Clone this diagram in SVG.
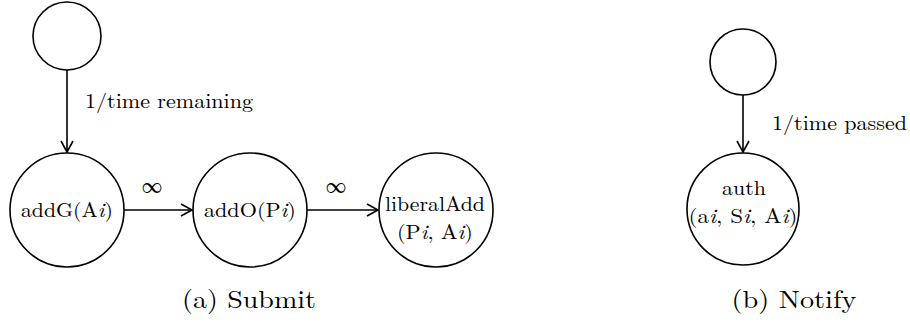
<svg xmlns="http://www.w3.org/2000/svg" width="910" height="323" viewBox="0 0 910 323">
<style>
.n{fill:#fff;stroke:#000;stroke-width:1.6}
.e{stroke:#000;stroke-width:1.6;fill:none;marker-end:url(#a)}
</style>
<defs>
<marker id="a" markerWidth="14" markerHeight="14" refX="12" refY="7" orient="auto" markerUnits="userSpaceOnUse">
<path d="M1,1 L12,7 L1,13" fill="none" stroke="#000" stroke-width="1.6"/>
</marker>
</defs>
<g font-family="Latin Modern Roman, Liberation Serif, serif" fill="#000" font-size="20.5">
<g id="connectors">
<line class="e" x1="67" y1="70" x2="67" y2="152"/>
<line class="e" x1="124" y1="210" x2="192" y2="210"/>
<line class="e" x1="307" y1="210" x2="378" y2="210"/>
<line class="e" x1="743" y1="95" x2="743" y2="152"/>
<text x="85" y="108" textLength="168" lengthAdjust="spacingAndGlyphs">1/time remaining</text>
<text x="152" y="193" text-anchor="middle">∞</text>
<text x="336" y="193" text-anchor="middle">∞</text>
<text x="772" y="130" textLength="135" lengthAdjust="spacingAndGlyphs">1/time passed</text>
</g>
<g text-anchor="middle">
<g id="s0"><circle class="n" cx="67" cy="36" r="34"/></g>
<g id="addG"><circle class="n" cx="67" cy="210" r="57"/><text x="67" y="217" textLength="92" lengthAdjust="spacingAndGlyphs">addG(A<tspan font-style="italic">i</tspan>)</text></g>
<g id="addO"><circle class="n" cx="250" cy="210" r="57"/><text x="250" y="217" textLength="92" lengthAdjust="spacingAndGlyphs">addO(P<tspan font-style="italic">i</tspan>)</text></g>
<g id="liberalAdd"><circle class="n" cx="436" cy="210" r="57"/><text x="435" y="211" textLength="100" lengthAdjust="spacingAndGlyphs">liberalAdd</text><text x="435" y="239" textLength="76" lengthAdjust="spacingAndGlyphs">(P<tspan font-style="italic">i</tspan>, A<tspan font-style="italic">i</tspan>)</text></g>
<g id="s1"><circle class="n" cx="743" cy="62" r="33"/></g>
<g id="auth"><circle class="n" cx="743" cy="209" r="56"/><text x="744" y="195" textLength="44" lengthAdjust="spacingAndGlyphs">auth</text><text x="743" y="223" textLength="109" lengthAdjust="spacingAndGlyphs">(a<tspan font-style="italic">i</tspan>, S<tspan font-style="italic">i</tspan>, A<tspan font-style="italic">i</tspan>)</text></g>
<text x="249" y="308" font-size="25" textLength="134" lengthAdjust="spacingAndGlyphs">(a) Submit</text>
<text x="794" y="308" font-size="25" textLength="125" lengthAdjust="spacingAndGlyphs">(b) Notify</text>
</g>
</g>
</svg>
